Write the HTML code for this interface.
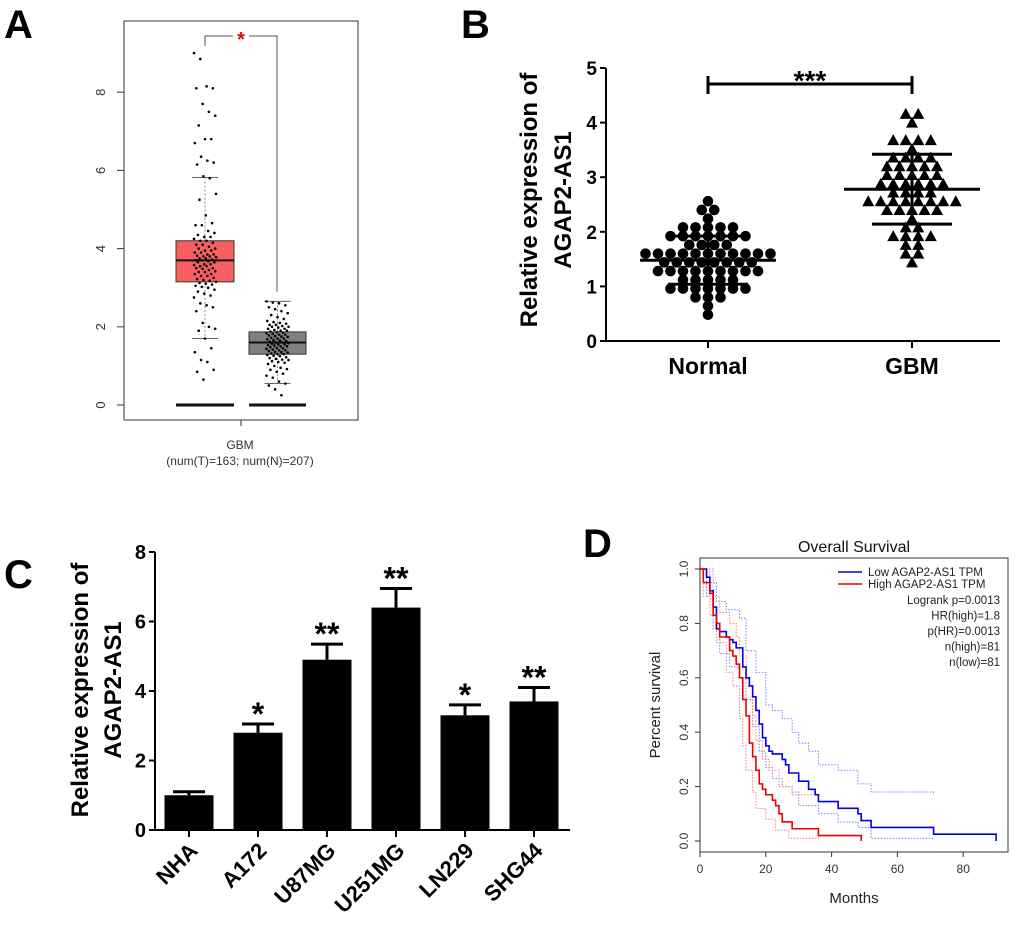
<!DOCTYPE html>
<html><head><meta charset="utf-8"><style>
html,body{margin:0;padding:0;background:#fff;}
svg{display:block;font-family:"Liberation Sans",Arial,sans-serif;}
</style></head><body>
<svg id="fig" width="1020" height="940" viewBox="0 0 1020 940" xmlns="http://www.w3.org/2000/svg">
<g font-weight="bold" font-size="40" fill="#000">
<text x="4" y="38">A</text>
<text x="461" y="38">B</text>
<text x="4" y="588">C</text>
<text x="583" y="557">D</text>
</g>
<g id="pa"></g>
<g id="pb"></g>
<g id="pc"></g>
<g id="pd"></g>
</svg>
<script>
// ---------- Panel A data ----------
const aTumor = [9.0,8.85,8.15,8.1,8.1,7.7,7.5,7.4,7.15,6.8,6.8,6.7,6.35,6.25,6.2,6.15,5.85,5.8,5.4,5.25,4.85,4.65,4.6,4.6,4.45,4.4,4.35,4.3,4.3,4.25,4.2,4.2,4.15,4.1,4.1,4.05,4.0,4.0,3.95,3.95,3.9,3.9,3.85,3.85,3.82,3.8,3.8,3.78,3.75,3.75,3.72,3.7,3.7,3.68,3.65,3.65,3.6,3.6,3.58,3.55,3.55,3.5,3.5,3.48,3.45,3.42,3.4,3.4,3.35,3.35,3.3,3.3,3.25,3.22,3.2,3.18,3.15,3.12,3.1,3.08,3.05,3.02,3.0,2.95,2.9,2.85,2.8,2.75,2.6,2.55,2.5,2.4,2.1,2.0,1.95,1.9,1.7,1.45,1.35,1.15,1.1,0.9,0.85,0.65];
const aNormal = [2.65,2.62,2.6,2.55,2.5,2.45,2.4,2.35,2.3,2.25,2.2,2.15,2.12,2.1,2.08,2.05,2.05,2.02,2.0,2.0,1.98,1.95,1.95,1.92,1.9,1.9,1.88,1.86,1.85,1.84,1.82,1.8,1.8,1.78,1.76,1.75,1.74,1.72,1.7,1.7,1.68,1.66,1.65,1.64,1.62,1.6,1.6,1.58,1.57,1.55,1.55,1.53,1.52,1.5,1.5,1.48,1.46,1.45,1.44,1.42,1.4,1.4,1.38,1.36,1.35,1.34,1.32,1.3,1.3,1.28,1.26,1.25,1.22,1.2,1.18,1.16,1.15,1.12,1.1,1.08,1.05,1.0,0.95,0.92,0.9,0.85,0.8,0.75,0.7,0.6,0.55,0.5,0.4,0.25];
const aStats = {tumor:{q1:3.15,med:3.7,q3:4.2,lo:1.7,hi:5.82}, normal:{q1:1.3,med:1.6,q3:1.87,lo:0.55,hi:2.65}};
const aTicks = [0,2,4,6,8];
// ---------- Panel B data ----------
const bNormal = [2.55,2.35,2.28,2.35,2.15,2.05,2.08,2.0,2.0,1.9,1.9,1.88,1.9,1.85,1.9,1.88,1.75,1.72,1.7,1.68,1.65,1.6,1.58,1.62,1.55,1.55,1.55,1.55,1.52,1.6,1.6,1.45,1.42,1.48,1.42,1.45,1.42,1.45,1.4,1.35,1.32,1.32,1.32,1.3,1.32,1.35,1.32,1.18,1.15,1.12,1.18,1.2,1.05,1.0,0.98,0.95,0.95,0.88,0.85,0.9,0.92,0.78,0.75,0.6,0.52];
const bGBM = [4.2,4.15,4.0,3.75,3.65,3.65,3.62,3.55,3.4,3.38,3.35,3.35,3.25,3.25,3.22,3.22,3.12,3.05,3.02,3.02,3.0,3.0,2.9,2.88,2.88,2.85,2.85,2.82,2.78,2.75,2.75,2.75,2.62,2.6,2.58,2.58,2.55,2.52,2.55,2.52,2.4,2.35,2.35,2.35,2.35,2.32,2.05,2.0,1.95,1.95,1.92,1.85,1.75,1.7,1.65,1.58,1.42];
const bMean = [1.48, 2.78];
const bSD = [0.44, 0.64];
const bTicks = [0,1,2,3,4,5];
// ---------- Panel C data ----------
const cCats = ["NHA","A172","U87MG","U251MG","LN229","SHG44"];
const cVals = [1.0,2.8,4.9,6.4,3.3,3.7];
const cErr = [0.1,0.25,0.45,0.55,0.3,0.4];
const cSig = ["","*","**","**","*","**"];
const cTicks = [0,2,4,6,8];
// ---------- Panel D data ----------
const dLowT = [0,2,3,4,5,6,8,9,10,11,13,14,15,16,17,18,19,20,21,22,25,26,27,30,33,35,36,42,48,49,52,71,90];
const dLowS = [1,0.97,0.92,0.86,0.78,0.77,0.75,0.74,0.73,0.71,0.64,0.6,0.57,0.53,0.48,0.43,0.38,0.35,0.33,0.32,0.30,0.28,0.25,0.22,0.19,0.17,0.145,0.12,0.10,0.075,0.05,0.025,0.0];
const dHighT = [0,1,3,4,5,6,8,9,10,11,12,13,14,15,16,17,18,19,20,22,23,24,25,28,36,49];
const dHighS = [1,0.95,0.91,0.83,0.80,0.75,0.75,0.70,0.68,0.65,0.60,0.52,0.46,0.36,0.31,0.26,0.21,0.19,0.17,0.15,0.13,0.10,0.07,0.045,0.02,0.0];
const dLowUpT = [0,3,5,8,12,14,17,20,22,25,28,30,33,36,42,48,52,71];
const dLowUpS = [1,0.95,0.88,0.85,0.82,0.70,0.62,0.50,0.48,0.45,0.40,0.36,0.33,0.28,0.26,0.21,0.18,0.17];
const dLowLoT = [0,2,4,6,9,12,14,16,18,20,22,25,28,30,36,42,48,52,71];
const dLowLoS = [1,0.9,0.78,0.69,0.64,0.60,0.52,0.42,0.33,0.27,0.23,0.20,0.18,0.13,0.10,0.07,0.05,0.01,0.01];
const dHighUpT = [0,2,4,6,9,11,12,14,16,17,19,21,24,28,36];
const dHighUpS = [1,1.0,0.9,0.84,0.80,0.75,0.68,0.57,0.46,0.37,0.30,0.26,0.20,0.17,0.17];
const dHighLoT = [0,1,3,5,8,10,12,13,14,16,17,20,23,27,36];
const dHighLoS = [1,0.9,0.83,0.73,0.62,0.57,0.45,0.35,0.26,0.18,0.12,0.08,0.04,0.01,0.0];
const dXTicks = [0,20,40,60,80];
const dYTicks = [0,0.2,0.4,0.6,0.8,1.0];
const dLegend = ["Logrank p=0.0013","HR(high)=1.8","p(HR)=0.0013","n(high)=81","n(low)=81"];

const NS="http://www.w3.org/2000/svg";
function mk(parent,tag,attrs,text){const e=document.createElementNS(NS,tag);for(const k in attrs)e.setAttribute(k,attrs[k]);if(text!==undefined)e.textContent=text;parent.appendChild(e);return e;}

// ===== Panel A =====
(function(){
  const g=document.getElementById('pa');
  const y=v=>405-v*39.1;
  let e=mk(g,'rect',{x:124,y:21,width:234,height:399,fill:'none',stroke:'#333','stroke-width':1});
  
  
  aTicks.forEach(t=>{
    mk(g,'line',{x1:117,x2:124,y1:y(t),y2:y(t),stroke:'#333'});
    e=mk(g,'text',{x:105,y:y(t),'font-size':13,fill:'#333','text-anchor':'middle',transform:`rotate(-90 105 ${y(t)})`},t);
    
    
  });
  mk(g,'line',{x1:241,x2:241,y1:420,y2:426,stroke:'#333'});
  e=mk(g,'text',{x:240,y:449,'font-size':12,fill:'#333','text-anchor':'middle'},'GBM');
  
  
  e=mk(g,'text',{x:240,y:465,'font-size':12,fill:'#333','text-anchor':'middle'},'(num(T)=163; num(N)=207)');
  
  
  const groups=[{s:aStats.tumor,x0:176,x1:234,fill:'#f86060',d:aTumor,n:'tumor'},{s:aStats.normal,x0:249,x1:306,fill:'#808080',d:aNormal,n:'normal'}];
  groups.forEach(G=>{
    const cx=(G.x0+G.x1)/2;
    mk(g,'line',{x1:cx,x2:cx,y1:y(G.s.hi),y2:y(G.s.q3),stroke:'#888','stroke-dasharray':'2,2'});
    mk(g,'line',{x1:cx,x2:cx,y1:y(G.s.q1),y2:y(G.s.lo),stroke:'#888','stroke-dasharray':'2,2'});
    mk(g,'line',{x1:cx-13,x2:cx+13,y1:y(G.s.hi),y2:y(G.s.hi),stroke:'#666'});
    mk(g,'line',{x1:cx-13,x2:cx+13,y1:y(G.s.lo),y2:y(G.s.lo),stroke:'#666'});
    e=mk(g,'rect',{x:G.x0,y:y(G.s.q3),width:G.x1-G.x0,height:y(G.s.q1)-y(G.s.q3),fill:G.fill,stroke:'#333','stroke-width':1});
    
    
    mk(g,'line',{x1:G.x0,x2:G.x1,y1:y(G.s.med),y2:y(G.s.med),stroke:'#111','stroke-width':2});
    e=mk(g,'line',{x1:G.x0,x2:G.x1,y1:y(0),y2:y(0),stroke:'#111','stroke-width':3});
    
    
    G.d.forEach((v,i)=>{
      const j=((i*37)%29)/28-0.5;
      e=mk(g,'circle',{cx:cx+j*22,cy:y(v),r:1.3,fill:'#000'});
      
      
    });
  });
  mk(g,'polyline',{points:`205,46 205,36 233,36`,fill:'none',stroke:'#555'});
  mk(g,'polyline',{points:`249,36 277,36 277,${y(2.9)}`,fill:'none',stroke:'#555'});
  e=mk(g,'text',{x:241,y:46,'font-size':20,'font-weight':'bold',fill:'#e00','text-anchor':'middle'},'*');
  
  
})();

// ===== Panel B =====
(function(){
  const g=document.getElementById('pb');
  const y=v=>341-v*54.6;
  const xs=[708,912];
  mk(g,'line',{x1:606,x2:606,y1:y(5),y2:342,stroke:'#000','stroke-width':2});
  mk(g,'line',{x1:605,x2:1000,y1:341,y2:341,stroke:'#000','stroke-width':2});
  bTicks.forEach(t=>{
    mk(g,'line',{x1:600,x2:606,y1:y(t),y2:y(t),stroke:'#000','stroke-width':2});
    let e=mk(g,'text',{x:597,y:y(t)+7,'font-size':19,'font-weight':'bold','text-anchor':'end'},t);
    
    
  });
  ['Normal','GBM'].forEach((c,i)=>{
    mk(g,'line',{x1:xs[i],x2:xs[i],y1:341,y2:348,stroke:'#000','stroke-width':2});
    let e=mk(g,'text',{x:xs[i],y:374,'font-size':23,'font-weight':'bold','text-anchor':'middle'},c);
    
    
  });
  let e=mk(g,'text',{x:0,y:0,'font-size':24,'font-weight':'bold','text-anchor':'middle',transform:'translate(537 200) rotate(-90)'},'Relative expression of');
  
  
  e=mk(g,'text',{x:0,y:0,'font-size':24,'font-weight':'bold','text-anchor':'middle',transform:'translate(571 200) rotate(-90)'},'AGAP2-AS1');
  
  
  [bNormal,bGBM].forEach((arr,gi)=>{
    const bins={};
    arr.forEach(v=>{const k=Math.round(v/0.16);(bins[k]=bins[k]||[]).push(v);});
    Object.keys(bins).forEach(k=>{
      const list=bins[k];
      list.forEach((v,i)=>{
        const off=(i-(list.length-1)/2)*12.5;
        const cx=xs[gi]+off, cy=y(k*0.16);
        let m;
        if(gi===0){m=mk(g,'circle',{cx:cx,cy:cy,r:5.3,fill:'#000'});
          }
        else{m=mk(g,'polygon',{points:`${cx},${cy-6} ${cx-6},${cy+5} ${cx+6},${cy+5}`,fill:'#000'});
          }
        
      });
    });
    const cx=xs[gi];
    mk(g,'line',{x1:cx-68,x2:cx+68,y1:y(bMean[gi]),y2:y(bMean[gi]),stroke:'#000','stroke-width':3});
    mk(g,'line',{x1:cx,x2:cx,y1:y(bMean[gi]+bSD[gi]),y2:y(bMean[gi]-bSD[gi]),stroke:'#000','stroke-width':3});
    mk(g,'line',{x1:cx-40,x2:cx+40,y1:y(bMean[gi]+bSD[gi]),y2:y(bMean[gi]+bSD[gi]),stroke:'#000','stroke-width':3});
    mk(g,'line',{x1:cx-40,x2:cx+40,y1:y(bMean[gi]-bSD[gi]),y2:y(bMean[gi]-bSD[gi]),stroke:'#000','stroke-width':3});
  });
  mk(g,'line',{x1:708,x2:912,y1:84,y2:84,stroke:'#000','stroke-width':3});
  mk(g,'line',{x1:708,x2:708,y1:76,y2:94,stroke:'#000','stroke-width':3});
  mk(g,'line',{x1:912,x2:912,y1:76,y2:94,stroke:'#000','stroke-width':3});
  e=mk(g,'text',{x:810,y:90,'font-size':28,'font-weight':'bold','text-anchor':'middle'},'***');
  
  
})();

// ===== Panel C =====
(function(){
  const g=document.getElementById('pc');
  const y=v=>830-v*34.75;
  const x=i=>189+i*69;
  mk(g,'line',{x1:155,x2:155,y1:y(8),y2:831,stroke:'#000','stroke-width':2});
  mk(g,'line',{x1:154,x2:570,y1:830,y2:830,stroke:'#000','stroke-width':2});
  cTicks.forEach(t=>{
    mk(g,'line',{x1:149,x2:155,y1:y(t),y2:y(t),stroke:'#000','stroke-width':2});
    let e=mk(g,'text',{x:146,y:y(t)+7,'font-size':20,'font-weight':'bold','text-anchor':'end'},t);
    
    
  });
  let e=mk(g,'text',{x:0,y:0,'font-size':24,'font-weight':'bold','text-anchor':'middle',transform:'translate(88 690) rotate(-90)'},'Relative expression of');
  
  
  e=mk(g,'text',{x:0,y:0,'font-size':24,'font-weight':'bold','text-anchor':'middle',transform:'translate(121 690) rotate(-90)'},'AGAP2-AS1');
  
  
  cCats.forEach((c,i)=>{
    const cx=x(i);
    mk(g,'line',{x1:cx,x2:cx,y1:y(cVals[i]),y2:y(cVals[i]+cErr[i]),stroke:'#000','stroke-width':3});
    mk(g,'line',{x1:cx-16,x2:cx+16,y1:y(cVals[i]+cErr[i]),y2:y(cVals[i]+cErr[i]),stroke:'#000','stroke-width':3});
    let b=mk(g,'rect',{x:cx-24.5,y:y(cVals[i]),width:49,height:830-y(cVals[i]),fill:'#000'});
    
    
    mk(g,'line',{x1:cx,x2:cx,y1:830,y2:837,stroke:'#000','stroke-width':2});
    if(cSig[i]){
      let s=mk(g,'text',{x:cx,y:y(cVals[i]+cErr[i])+1,'font-size':32,'font-weight':'bold','text-anchor':'middle'},cSig[i]);
      
      
    }
    let t=mk(g,'text',{x:cx+10,y:852,'font-size':22,'font-weight':'bold','text-anchor':'end',transform:`rotate(-45 ${cx+10} 852)`},c);
    
    
  });
})();

// ===== Panel D =====
(function(){
  const g=document.getElementById('pd');
  const x=t=>700+t*3.29;
  const y=s=>841-s*272;
  let e=mk(g,'rect',{x:700,y:558,width:308,height:294,fill:'none',stroke:'#333'});
  
  
  e=mk(g,'text',{x:854,y:552,'font-size':16,'text-anchor':'middle',fill:'#111'},'Overall Survival');
  
  
  dXTicks.forEach(t=>{
    mk(g,'line',{x1:x(t),x2:x(t),y1:852,y2:857,stroke:'#333'});
    let l=mk(g,'text',{x:x(t),y:873,'font-size':12,'text-anchor':'middle',fill:'#333'},t);
    
    
  });
  mk(g,'line',{x1:x(0),x2:x(80),y1:852,y2:852,stroke:'#333'});
  dYTicks.forEach(t=>{
    mk(g,'line',{x1:695,x2:700,y1:y(t),y2:y(t),stroke:'#333'});
    let l=mk(g,'text',{x:0,y:0,'font-size':12,'text-anchor':'middle',fill:'#333',transform:`translate(688 ${y(t)}) rotate(-90)`},t.toFixed(1));
    
    
  });
  e=mk(g,'text',{x:854,y:903,'font-size':15,'text-anchor':'middle',fill:'#222'},'Months');
  
  
  e=mk(g,'text',{x:0,y:0,'font-size':15,'text-anchor':'middle',fill:'#222',transform:'translate(660 705) rotate(-90)'},'Percent survival');
  
  
  function step(T,S){let p=`${x(T[0])},${y(S[0])}`;for(let i=1;i<T.length;i++){p+=` ${x(T[i])},${y(S[i-1])} ${x(T[i])},${y(S[i])}`;}return p;}
  [[dLowUpT,dLowUpS,'#7a7aff','low-ci-upper'],[dLowLoT,dLowLoS,'#7a7aff','low-ci-lower'],[dHighUpT,dHighUpS,'#ff7a7a','high-ci-upper'],[dHighLoT,dHighLoS,'#ff7a7a','high-ci-lower']].forEach(a=>{
    let l=mk(g,'polyline',{points:step(a[0],a[1]),fill:'none',stroke:a[2],'stroke-width':1,'stroke-dasharray':'1.5,1.5'});
    
    
  });
  e=mk(g,'polyline',{points:step(dLowT,dLowS),fill:'none',stroke:'#0000ee','stroke-width':1.6});
  
  
  e=mk(g,'polyline',{points:step(dHighT,dHighS),fill:'none',stroke:'#ee0000','stroke-width':1.6});
  
  
  mk(g,'line',{x1:838,x2:862,y1:572,y2:572,stroke:'#0000ee','stroke-width':1.6});
  mk(g,'line',{x1:838,x2:862,y1:584,y2:584,stroke:'#ee0000','stroke-width':1.6});
  e=mk(g,'text',{x:868,y:576,'font-size':11.5,fill:'#222'},'Low AGAP2-AS1 TPM');
  
  
  e=mk(g,'text',{x:868,y:588,'font-size':11.5,fill:'#222'},'High AGAP2-AS1 TPM');
  
  
  dLegend.forEach((s,i)=>{
    let l=mk(g,'text',{x:1000,y:604+i*15.5,'font-size':11.5,fill:'#222','text-anchor':'end'},s);
    
    
  });
})();
</script>
</body></html>
